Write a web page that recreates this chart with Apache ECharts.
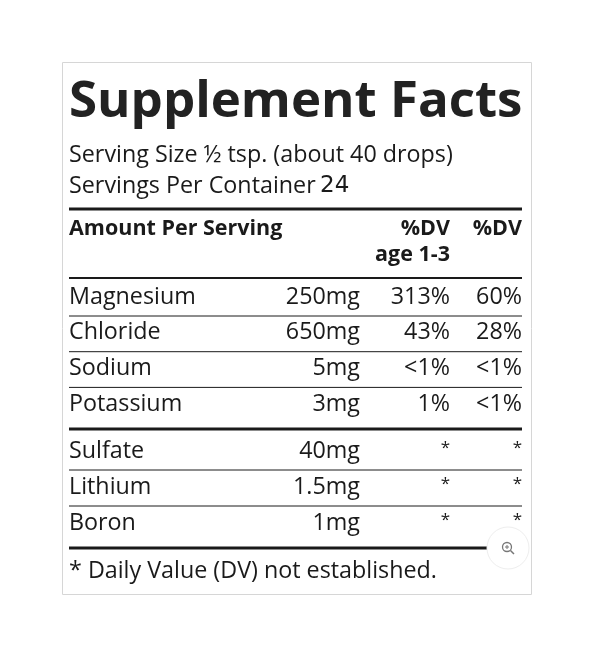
<!DOCTYPE html>
<html><head><meta charset="utf-8">
<script src="https://cdn.jsdelivr.net/npm/echarts@6/dist/echarts.min.js"></script>
<style>html,body{margin:0;padding:0;background:#fff}#c{width:600px;height:645px}</style>
</head><body><div id="c"></div>
<script>
const title = "Supplement Facts";
const servingSize = "Serving Size ½ tsp. (about 40 drops)";
const servingsLabel = "Servings Per Container";
const servingsValue = "24";
const headers = ["Amount Per Serving", "%DV\nage 1-3", "%DV"];
const group1Names = ["Magnesium", "Chloride", "Sodium", "Potassium"];
const group1Amounts = ["250mg", "650mg", "5mg", "3mg"];
const group1DV1 = ["313%", "43%", "<1%", "1%"];
const group1DV2 = ["60%", "28%", "<1%", "<1%"];
const group2Names = ["Sulfate", "Lithium", "Boron"];
const group2Amounts = ["40mg", "1.5mg", "1mg"];
const group2DV1 = ["*", "*", "*"];
const group2DV2 = ["*", "*", "*"];
const footnote = "* Daily Value (DV) not established.";

const F = "'Open Sans', 'Noto Sans', sans-serif";
const C = "#1a1a1a";
const FS = "400 23.3px " + F;
const L = 69, R = 522, colAmt = 360, colDV1 = 450, colDV2 = 522;
const els = [];
function txt(x, y, s, o) {
  els.push({type:'text', x, y, style:Object.assign({text:s, fill:C, font:FS, textVerticalAlign:'middle', textBaseline:'middle'}, o||{})});
}
function line(y, w, x2) {
  els.push({type:'line', shape:{x1:L, y1:y, x2:x2||R, y2:y}, style:{stroke:C, lineWidth:w}});
}
els.push({type:'rect', shape:{x:62.5, y:62.5, width:469, height:532}, style:{fill:'#fff', stroke:'#d6d6d6', lineWidth:1}});
txt(L, 102, title, {font:`700 51px ${F}`, fill:'#222'});
txt(L, 155, servingSize);
txt(L, 186, servingsLabel);
txt(320, 186, servingsValue, {font:`400 23px 'DejaVu Sans', sans-serif`});
line(209, 3);
const HB = `700 21.5px ${F}`;
txt(L, 229, headers[0], {font:HB});
txt(colDV1, 229, "%DV", {font:HB, align:'right', textAlign:'right'});
txt(colDV1, 255, "age 1-3", {font:HB, align:'right', textAlign:'right'});
txt(colDV2, 229, headers[2], {font:HB, align:'right', textAlign:'right'});
line(278, 2);
function rows(names, amts, d1, d2, y0, step) {
  names.forEach((n, i) => {
    const y = y0 + i * step;
    txt(L, y, n);
    txt(colAmt, y, amts[i], {align:'right', textAlign:'right'});
    const star1 = d1[i] === '*', star2 = d2[i] === '*';
    txt(colDV1, star1 ? y - 3 : y, d1[i], star1 ? {align:'right', textAlign:'right', font:`400 17px ${F}`} : {align:'right', textAlign:'right'});
    txt(colDV2, star2 ? y - 3 : y, d2[i], star2 ? {align:'right', textAlign:'right', font:`400 17px ${F}`} : {align:'right', textAlign:'right'});
    if (i < names.length - 1) line(y + 19, 1);
  });
}
rows(group1Names, group1Amounts, group1DV1, group1DV2, 297, 35.7);
line(429, 3);
rows(group2Names, group2Amounts, group2DV1, group2DV2, 451, 36);
line(548, 3, 487);
txt(L, 571, footnote);
els.push({type:'circle', shape:{cx:508, cy:548, r:21}, style:{fill:'#fff', stroke:'#eee', lineWidth:1}});
els.push({type:'circle', shape:{cx:507, cy:547, r:4.5}, style:{fill:'none', stroke:'#777', lineWidth:1.3}});
els.push({type:'line', shape:{x1:510.5, y1:550.5, x2:514, y2:554}, style:{stroke:'#777', lineWidth:1.5}});
els.push({type:'line', shape:{x1:505, y1:547, x2:509, y2:547}, style:{stroke:'#777', lineWidth:1}});
els.push({type:'line', shape:{x1:507, y1:545, x2:507, y2:549}, style:{stroke:'#777', lineWidth:1}});

const chart = echarts.init(document.getElementById('c'), null, {renderer:'canvas'});
chart.setOption({animation:false, graphic:{elements:els}});
</script></body></html>
